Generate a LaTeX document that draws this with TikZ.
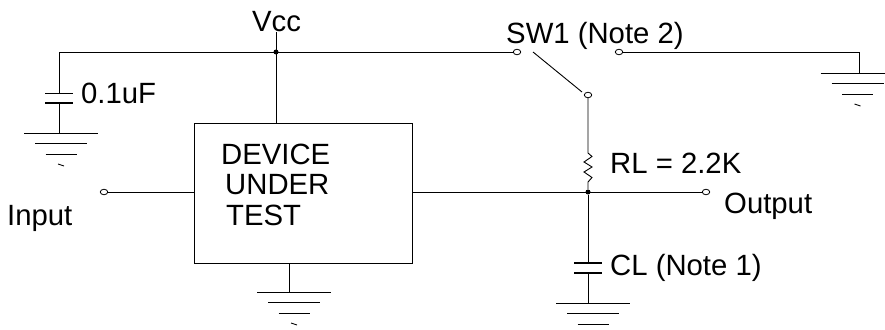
\documentclass[tikz,border=0pt]{standalone}
\usepackage{fontspec}
\setmainfont{Liberation Sans}
\usetikzlibrary{shapes.geometric}
\begin{document}
\begin{tikzpicture}[x=1pt,y=-1pt,
  wire/.style={line width=0.9pt},
  term/.style={draw, line width=0.8pt, ellipse, minimum width=7.5pt, minimum height=5.5pt, inner sep=0pt, fill=white},
  jdot/.style={circle, fill, inner sep=0pt, minimum size=5pt},
  lbl/.style={inner sep=0pt, anchor=base west, font=\fontsize{29.3}{30}\selectfont},
  plate/.style={line width=1.6pt},
  dutbox/.style={draw, line width=1pt, minimum width=218pt, minimum height=140pt, inner sep=0pt},
  gnd/.pic={\draw[line width=1pt] (-37,0) -- (37,0) (-26,10.5) -- (26,10.5) (-15.5,21) -- (15.5,21);
            \draw[line width=0.8pt] (-3,31) -- (3,33);}
]
\useasboundingbox (0,0) rectangle (885,329);

% labels
\node[lbl] (vcc) at (252,32) {Vcc};
\node[lbl] (c1l) at (81,103) {0.1uF};
\node[lbl] (inl) at (7,225) {Input};
\node[lbl] (swl) at (506,44) {SW1 (Note 2)};
\node[lbl] (rll) at (610,173) {RL = 2.2K};
\node[lbl] (outl) at (724,213) {Output};
\node[lbl] (cll) at (610,275) {CL (Note 1)};

% device under test
\node[dutbox] (dut) at (303,193) {};
\node[lbl] (t1) at (221,164) {DEVICE};
\node[lbl] (t2) at (225,194) {UNDER};
\node[lbl] (t3) at (226,225) {TEST};

% terminals and junctions
\node[term] (in) at (104,192) {};
\node[term] (sw1) at (517,52) {};
\node[term] (sw2) at (619,52) {};
\node[term] (swc) at (588,95) {};
\node[term] (out) at (706,192) {};
\coordinate (tl) at (59,52);
\coordinate (c1a) at (59,93.3);
\coordinate (c1b) at (59,102.7);
\coordinate (g1) at (59,133);
\coordinate (g2) at (289,292);
\coordinate (g3) at (859,73);
\coordinate (r1) at (588,153);
\coordinate (r2) at (588,182);
\coordinate (c2a) at (588,263);
\coordinate (c2b) at (588,273);
\coordinate (g4) at (588,303);
\coordinate (bladeA) at (533,52);
\coordinate (bladeB) at (582,92);
\coordinate (j1c) at (276,52);

% supply rail and decoupling capacitor
\draw[wire] (sw1.west) -- (tl) -- (c1a);
\draw[plate] (c1a) ++(-14,0) -- ++(28,0);
\draw[plate] (c1b) ++(-14,0) -- ++(28,0);
\draw[wire] (c1b) -- (g1);
\pic at (61,133) {gnd};

\draw[wire] (vcc.south -| j1c) -- (j1c |- dut.north);
\node[jdot] (j1) at (j1c) {};

% input and DUT ground
\draw[wire] (in) -- (in -| dut.west);
\draw[wire] (g2 |- dut.south) -- (g2);
\pic at (294,292) {gnd};

% output
\node[jdot] (j2) at (588,192) {};
\draw[wire] (dut.east |- j2) -- (out.west);

% switch
\draw[wire] (bladeA) -- (bladeB);
\draw[wire] (sw2.east) -- (g3 |- sw2) -- (g3);
\pic at (857.5,73) {gnd};

% load resistor
\draw[wire] (swc.south) -- (r1) -- ++(4,3.5) -- ++(-8,5.5) -- ++(8,5) -- ++(-8,5) -- ++(8,5.5) -- (r2) -- (j2);

% load capacitor
\draw[wire] (j2) -- (c2a);
\draw[plate] (c2a) ++(-14,0) -- ++(28,0);
\draw[plate] (c2b) ++(-14,0) -- ++(28,0);
\draw[wire] (c2b) -- (g4);
\pic at (593,303) {gnd};
\end{tikzpicture}
\end{document}
